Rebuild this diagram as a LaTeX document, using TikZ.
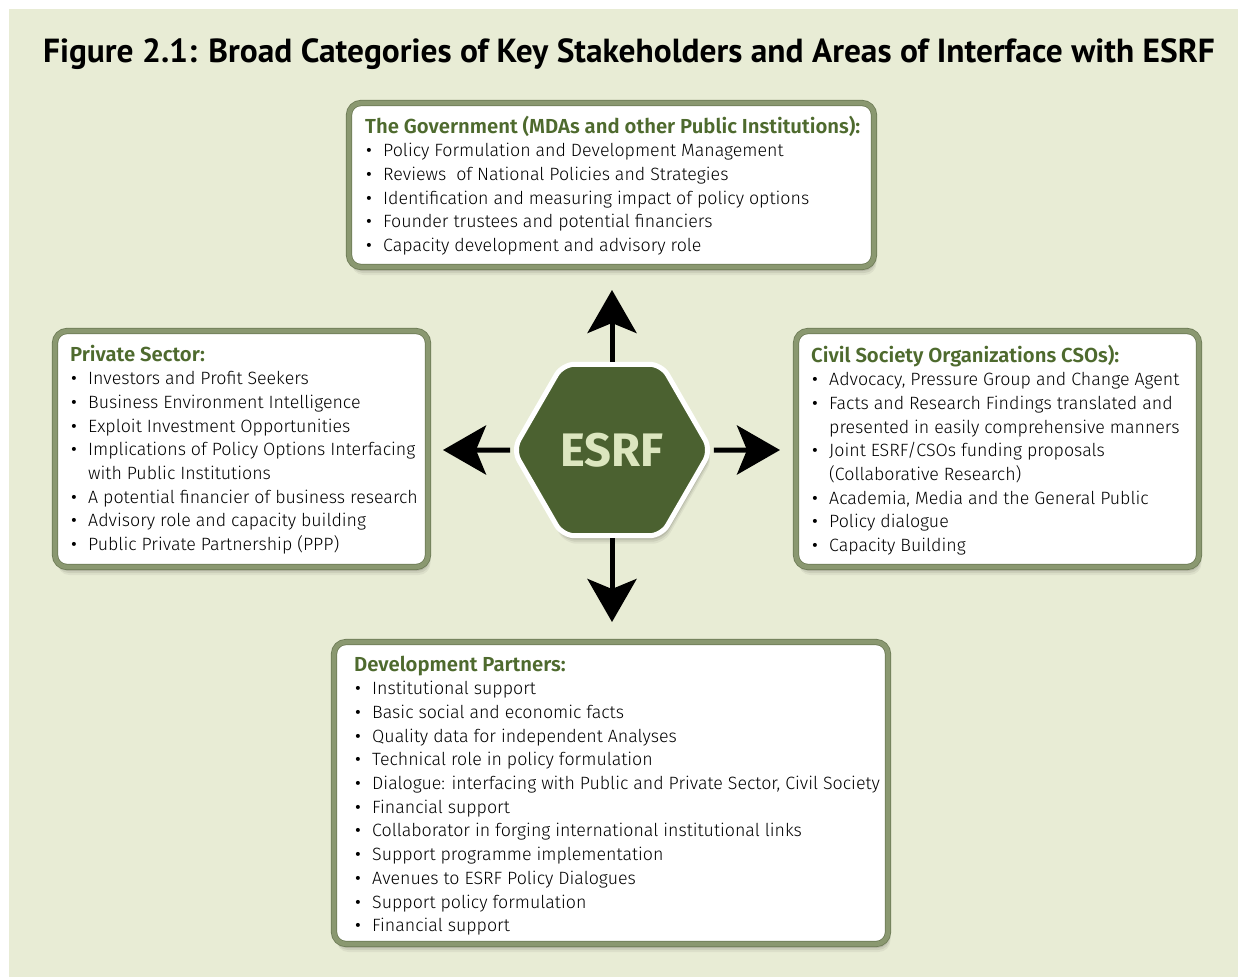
\documentclass[tikz,border=0pt]{standalone}
\usepackage{fontspec}
\setmainfont{Fira Sans Light}[BoldFont={Fira Sans SemiBold}]
\newfontfamily\titlefont{PT Sans}
\newfontfamily\bulletfont{Fira Sans}
\newfontfamily\hexfont{Fira Sans}
\usetikzlibrary{arrows.meta,shapes.geometric,shadows}

\definecolor{pagebg}{HTML}{E8ECD5}
\definecolor{hdrgreen}{HTML}{4E6A2E}
\definecolor{hexgreen}{HTML}{4B6130}
\definecolor{hexlabel}{HTML}{DCE6BF}
\definecolor{framegreen}{HTML}{8A9870}
\definecolor{frameedge}{HTML}{6C7A55}

% bullet list helpers: heading, bulleted item, continuation line
\newcommand\hdr[1]{\hbox{\color{hdrgreen}\bfseries\fontsize{20.3}{23.7}\selectfont #1}}
\newcommand\itm[1]{\hbox{\hspace*{1pt}\makebox[17pt][l]{\bulletfont\textbullet}#1}}
\newcommand\cnt[1]{\hbox{\hspace*{18pt}#1}}
\newcommand\itemlist[1]{\vtop{\baselineskip=23.7pt #1}}

\tikzset{
  softshadow/.style={
    general shadow={fill=black, opacity=0.10, shadow xshift=1pt, shadow yshift=-2pt},
    general shadow={fill=black, opacity=0.09, shadow xshift=1.5pt, shadow yshift=-4pt},
    general shadow={fill=black, opacity=0.07, shadow xshift=2pt, shadow yshift=-6pt},
    general shadow={fill=black, opacity=0.05, shadow xshift=2.5pt, shadow yshift=-8pt}},
  stakebox/.style={draw=frameedge, double=framegreen, double distance=4.6pt,
    line width=0.8pt, fill=white, rounded corners=12pt, inner sep=0pt, softshadow},
  listtext/.style={anchor=base west, inner sep=0pt, text=black,
    font=\fontsize{17.8}{23.7}\selectfont},
  bigarrow/.style={line width=5pt, -{Stealth[length=43pt, width=49pt, inset=10pt]}},
}

\begin{document}
\begin{tikzpicture}[x=1pt, y=-1pt]
\useasboundingbox (0,0) rectangle (1238,977);
\fill[white] (0,0) rectangle (1238,977);
\fill[pagebg] (9,9) rectangle (1238,977);

\node[anchor=base, inner sep=0pt, font=\titlefont\bfseries\fontsize{33.4}{40}\selectfont]
  (title) at (629,62) {Figure 2.1: Broad Categories of Key Stakeholders and Areas of Interface with ESRF};

% stakeholder frames
\node[stakebox, minimum width=525pt, minimum height=164pt] (gov) at (611.5,185) {};
\node[stakebox, minimum width=373pt, minimum height=236pt] (private) at (241.5,449) {};
\node[stakebox, minimum width=403pt, minimum height=236pt] (cso) at (997.5,449) {};
\node[stakebox, minimum width=554pt, minimum height=302pt] (partners) at (611,793) {};

% central hexagon
\node[regular polygon, regular polygon sides=6, minimum size=198pt, inner sep=0pt,
  fill=hexgreen, draw=white, line width=5pt, rounded corners=12pt, softshadow,
  text=hexlabel, font=\hexfont\bfseries\fontsize{47}{50}\selectfont] (esrf) at (612,450) {ESRF};

\coordinate (tipU) at (612,290);
\coordinate (tipD) at (612,622);
\coordinate (tipL) at (443,450);
\coordinate (tipR) at (780,450);
\draw[bigarrow] (esrf) -- (tipU);
\draw[bigarrow] (esrf) -- (tipD);
\draw[bigarrow] (esrf) -- (tipL);
\draw[bigarrow] (esrf) -- (tipR);

% box contents
\node[listtext] (govtext) at (365,133) {\itemlist{%
  \hdr{The Government (MDAs and other Public Institutions):}
  \itm{Policy Formulation and Development Management}
  \itm{Reviews\ \ of National Policies and Strategies}
  \itm{Identification and measuring impact of policy options}
  \itm{Founder trustees and potential financiers}
  \itm{Capacity development and advisory role}}};

\node[listtext] (privtext) at (70,361) {\itemlist{%
  \hdr{Private Sector:}
  \itm{Investors and Profit Seekers}
  \itm{Business Environment Intelligence}
  \itm{Exploit Investment Opportunities}
  \itm{Implications of Policy Options Interfacing}
  \cnt{with Public Institutions}
  \itm{A potential financier of business research}
  \itm{Advisory role and capacity building}
  \itm{Public Private Partnership (PPP)}}};

\node[listtext] (csotext) at (811,362) {\itemlist{%
  \hdr{Civil Society Organizations CSOs):}
  \itm{Advocacy, Pressure Group and Change Agent}
  \itm{Facts and Research Findings translated and}
  \cnt{presented in easily comprehensive manners}
  \itm{Joint ESRF/CSOs funding proposals}
  \cnt{(Collaborative Research)}
  \itm{Academia, Media and the General Public}
  \itm{Policy dialogue}
  \itm{Capacity Building}}};

\node[listtext] (dptext) at (354,671) {\itemlist{%
  \hdr{Development Partners:}
  \itm{Institutional support}
  \itm{Basic social and economic facts}
  \itm{Quality data for independent Analyses}
  \itm{Technical role in policy formulation}
  \itm{Dialogue: interfacing with Public and Private Sector, Civil Society}
  \itm{Financial support}
  \itm{Collaborator in forging international institutional links}
  \itm{Support programme implementation}
  \itm{Avenues to ESRF Policy Dialogues}
  \itm{Support policy formulation}
  \itm{Financial support}}};
\end{tikzpicture}
\end{document}
